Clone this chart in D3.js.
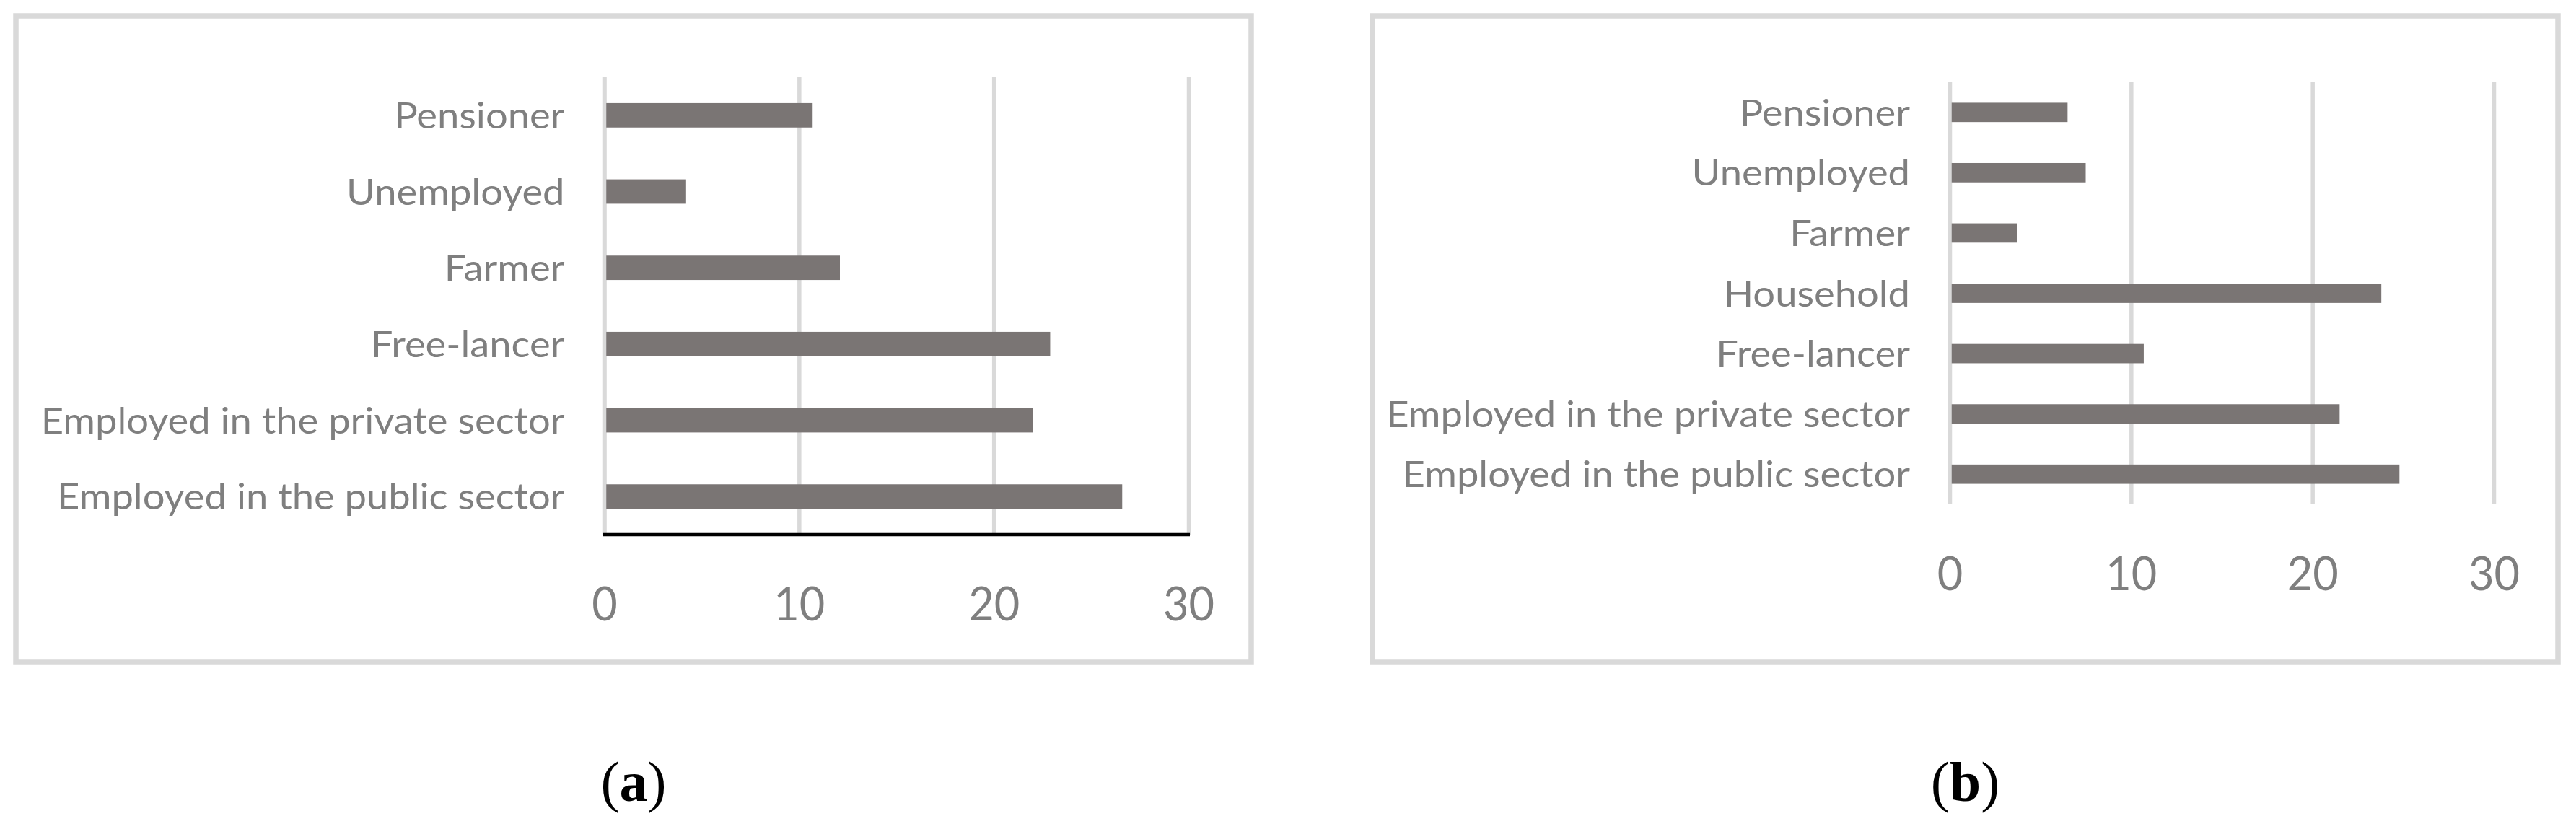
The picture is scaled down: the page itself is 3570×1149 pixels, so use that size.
<!DOCTYPE html>
<html>
<head>
<meta charset="utf-8">
<script src="https://cdn.jsdelivr.net/npm/d3@7"></script>
<style>
  html, body { margin: 0; padding: 0; background: #ffffff; }
  svg { display: block; }
</style>
</head>
<body>
<svg id="chart" width="3570" height="1149"></svg>
<script>
// ---------------- DATA ----------------
const categoriesA = ["Pensioner", "Unemployed", "Farmer", "Free-lancer",
  "Employed in the private sector", "Employed in the public sector"];
const valuesA = [10.7, 4.2, 12.1, 22.9, 22.0, 26.6];

const categoriesB = ["Pensioner", "Unemployed", "Farmer", "Household", "Free-lancer",
  "Employed in the private sector", "Employed in the public sector"];
const valuesB = [6.5, 7.5, 3.7, 23.8, 10.7, 21.5, 24.8];

const xTicks = [0, 10, 20, 30];
const panelLetters = ["a", "b"];

// ---------------- STYLE / LAYOUT ----------------
const BAR = "#7a7574", GRID = "#d9d9d9", TXT = "#7f7f7f";
const FONT = "Lato, 'Open Sans', sans-serif";
const LABEL_SIZE = 50, TICK_SIZE = 65;

const panels = [
  { cats: categoriesA, vals: valuesA, letter: panelLetters[0],
    frame: [22, 22, 1734, 918], x0: 837.5, x1: 1647, top: 107, bottom: 741, axisLine: true },
  { cats: categoriesB, vals: valuesB, letter: panelLetters[1],
    frame: [1902, 22, 3545, 918], x0: 2702, x1: 3456, top: 114, bottom: 699, axisLine: false }
];

const svg = d3.select("#chart");

// measure to emulate the narrow Calibri look
function measure(txt, size) {
  const t = svg.append("text").style("font-family", FONT).style("font-size", size + "px").text(txt);
  const w = t.node().getComputedTextLength();
  t.remove();
  return w;
}
const sxLabel = 726 / measure("Employed in the private sector", LABEL_SIZE);
const sxTick = 71 / measure("30", TICK_SIZE);

panels.forEach(p => {
  const g = svg.append("g");
  const [fx0, fy0, fx1, fy1] = p.frame;

  // frame
  g.append("rect")
    .attr("x", fx0).attr("y", fy0)
    .attr("width", fx1 - fx0).attr("height", fy1 - fy0)
    .attr("fill", "#fff").attr("stroke", GRID).attr("stroke-width", 7.5);

  const x = d3.scaleLinear().domain([xTicks[0], xTicks[xTicks.length - 1]]).range([p.x0, p.x1]);
  const y = d3.scaleBand().domain(p.cats).range([p.top, p.bottom])
    .paddingInner(0.68).paddingOuter(0.34);

  // gridlines
  const grid = g.append("g").attr("transform", `translate(0,${p.bottom})`)
    .call(d3.axisBottom(x).tickValues(xTicks).tickSize(-(p.bottom - p.top)).tickFormat(""));
  grid.select(".domain").remove();
  grid.selectAll("line").attr("stroke", GRID).attr("stroke-width", 5.5);

  // bars
  g.append("g").selectAll("rect").data(p.cats).join("rect")
    .attr("x", x(0))
    .attr("y", d => y(d))
    .attr("width", (d, i) => x(p.vals[i]) - x(0))
    .attr("height", y.bandwidth())
    .attr("fill", BAR);

  // zero gridline on top of bars
  g.append("line")
    .attr("x1", x(0)).attr("x2", x(0)).attr("y1", p.top).attr("y2", p.bottom)
    .attr("stroke", GRID).attr("stroke-width", 5.5);

  if (p.axisLine) {
    g.append("line")
      .attr("x1", x(0) - 2).attr("x2", x(xTicks[xTicks.length - 1]) + 2)
      .attr("y1", p.bottom).attr("y2", p.bottom)
      .attr("stroke", "#000").attr("stroke-width", 4.5);
  }

  // category labels
  const pad = 55;
  const yAx = g.append("g").attr("transform", `translate(${x(0)},0)`)
    .call(d3.axisLeft(y).tickSize(0).tickPadding(pad));
  yAx.select(".domain").remove();
  yAx.selectAll("text")
    .style("font-family", FONT).style("font-size", LABEL_SIZE + "px")
    .attr("fill", TXT)
    .attr("text-anchor", "end")
    .attr("x", -pad / sxLabel)
    .attr("dy", "0.36em")
    .attr("transform", `scale(${sxLabel},1)`);

  // tick labels
  const xAx = g.append("g").attr("transform", `translate(0,${p.bottom + 119})`)
    .call(d3.axisBottom(x).tickValues(xTicks).tickSize(0).tickFormat(d3.format("d")));
  xAx.select(".domain").remove();
  xAx.selectAll("text")
    .style("font-family", FONT).style("font-size", TICK_SIZE + "px")
    .attr("fill", TXT)
    .attr("y", 0).attr("dy", 0)
    .attr("transform", `scale(${sxTick},1)`);

  // panel caption
  const cap = svg.append("text")
    .attr("x", (fx0 + fx1) / 2).attr("y", 1110)
    .attr("text-anchor", "middle")
    .style("font-family", "'Liberation Serif', 'Times New Roman', serif")
    .style("font-size", "78px").attr("fill", "#000");
  cap.append("tspan").text("(");
  cap.append("tspan").style("font-weight", "bold").text(p.letter);
  cap.append("tspan").text(")");
});
</script>
</body>
</html>
